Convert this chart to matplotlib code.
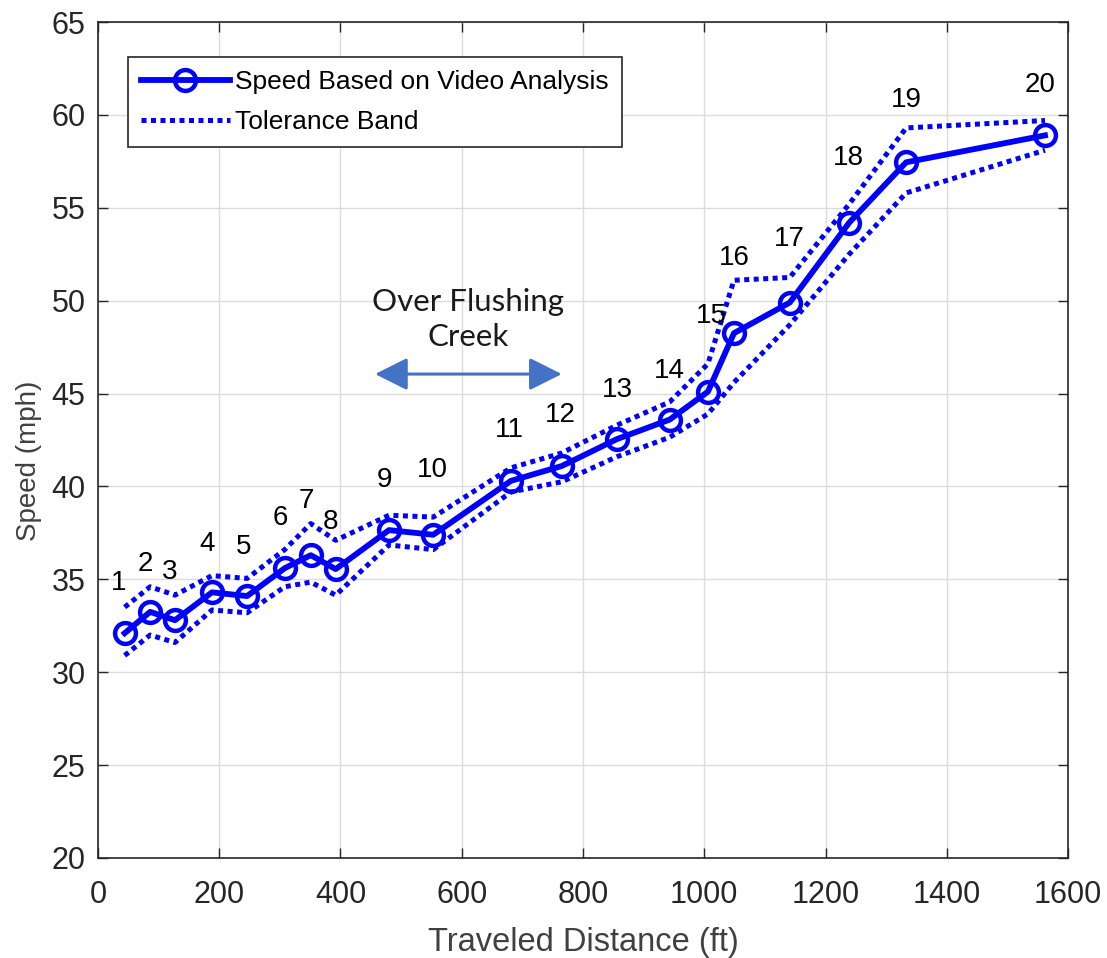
import matplotlib
matplotlib.use("Agg")
import matplotlib.pyplot as plt
import numpy as np

# Speed measured from video, per segment (1..20)
distance_ft = [44, 86, 127, 188, 246, 308, 351, 392, 480, 553,
               681, 765, 856, 943, 1006, 1049, 1141, 1239, 1333, 1562]
speed_mph = [32.1, 33.25, 32.8, 34.3, 34.1, 35.6, 36.3, 35.55, 37.65, 37.4,
             40.3, 41.1, 42.55, 43.6, 45.1, 48.25, 49.9, 54.2, 57.45, 58.9]
upper_band = [33.5, 34.6, 34.15, 35.2, 35.05, 36.6, 38.0, 37.1, 38.45, 38.35,
              41.0, 41.8, 43.3, 44.55, 46.6, 51.1, 51.25, 55.2, 59.3, 59.7]
lower_band = [30.9, 32.0, 31.6, 33.35, 33.2, 34.6, 34.85, 34.15, 36.85, 36.6,
              39.7, 40.25, 41.6, 42.65, 43.9, 45.6, 48.7, 52.5, 55.8, 58.1]

# Segment number labels (positions)
seg_labels = [str(i) for i in range(1, 21)]
label_x = [34, 78, 119, 180, 241, 300, 343, 383, 473, 551,
           679, 762, 856, 943, 1011, 1049, 1141, 1237, 1333, 1554]
label_y = [34.8, 35.8, 35.4, 36.9, 36.75, 38.3, 39.2, 38.1, 40.35, 40.9,
           43.05, 43.85, 45.2, 46.2, 49.2, 52.3, 53.3, 57.7, 60.8, 61.6]

# Bridge section annotation
creek_start, creek_end, creek_y = 457, 765, 46.05

plt.rcParams['font.family'] = ['Liberation Sans', 'DejaVu Sans']

fig = plt.figure(figsize=(11.07, 9.58), dpi=100)
ax = fig.add_axes([0.0885, 0.1044, 0.8763, 0.8726])

blue = (0, 0, 1)
ax.plot(distance_ft, speed_mph, color=blue, lw=4.2, marker='o', ms=15,
        mfc='none', mew=3.2, label='Speed Based on Video Analysis', zorder=3)
ax.plot(distance_ft, upper_band, color=blue, lw=3.6, ls=(0, (1.0, 0.9)),
        label='Tolerance Band', zorder=2)
ax.plot(distance_ft, lower_band, color=blue, lw=3.6, ls=(0, (1.0, 0.9)), zorder=2)

for lbl, lx, ly in zip(seg_labels, label_x, label_y):
    ax.text(lx, ly, lbl, ha='center', va='center', fontsize=20, color='black')

ax.annotate('', xy=(creek_start, creek_y), xytext=(creek_end, creek_y),
            arrowprops=dict(arrowstyle='<|-|>', color='#4472C4', lw=2.2,
                            mutation_scale=50, shrinkA=0, shrinkB=0))
ax.text((creek_start + creek_end) / 2 - 1, 49.0, 'Over Flushing\nCreek',
        ha='center', va='center', fontsize=22.5, family='Lato',
        linespacing=1.3, color='#1a1a1a')

ax.set_xlim(0, 1600)
ax.set_ylim(20, 65)
ax.set_xticks(np.arange(0, 1601, 200))
ax.set_yticks(np.arange(20, 66, 5))
ax.tick_params(direction='in', length=7, width=1, labelsize=22,
               colors='#262626', top=True, right=True)
ax.tick_params(axis='x', pad=16)
ax.tick_params(axis='y', pad=9)
ax.grid(True, color='#dcdcdc', lw=1)
ax.set_axisbelow(True)
for sp in ax.spines.values():
    sp.set_color('#262626')
    sp.set_linewidth(1.2)

ax.set_xlabel('Traveled Distance (ft)', fontsize=23.5, color='#404040', labelpad=12)
ax.set_ylabel('Speed (mph)', fontsize=20, color='#404040')
ax.yaxis.set_label_coords(-0.058, 0.475)

leg = ax.legend(loc='upper left', bbox_to_anchor=(0.031, 0.958), fontsize=19,
                handlelength=3.35, fancybox=False, framealpha=1,
                edgecolor='#262626', borderpad=0.5, labelspacing=0.6,
                handletextpad=0.2, borderaxespad=0)
leg.get_frame().set_linewidth(1.2)

fig.savefig('out.png', dpi=100)
